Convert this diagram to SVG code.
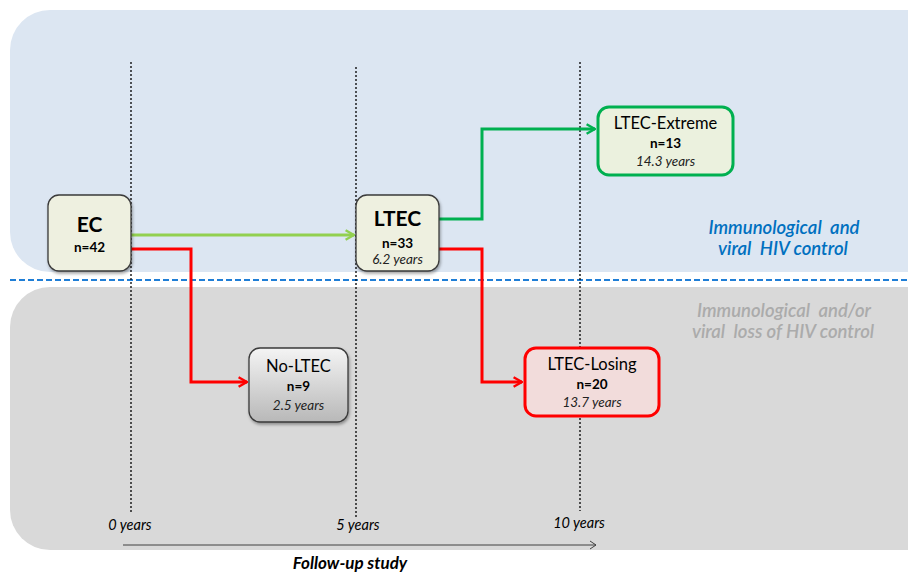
<svg xmlns="http://www.w3.org/2000/svg" width="908" height="573" viewBox="0 0 908 573">
<style>
text{font-family:Lato,"Open Sans","Liberation Sans",sans-serif;text-anchor:middle;fill:#000}
.t{font-size:16.5px}
.n{font-size:13.5px;font-weight:bold}
.y{font-size:13.5px;font-style:italic;fill:#222}
.vl{stroke:#000;stroke-width:1.3;stroke-dasharray:2,2;fill:none}
.c{fill:none;stroke-width:3}
.ax{font-size:14.5px;font-style:italic}
.bl{font-size:18.5px;font-style:italic;font-weight:600;fill:#0070C0}
.gr{font-size:18.5px;font-style:italic;font-weight:600;fill:#ABABAB}
</style>
<defs>
<filter id="sh" x="-20%" y="-20%" width="140%" height="150%"><feDropShadow dx="1" dy="2" stdDeviation="1.5" flood-color="#000" flood-opacity="0.35"/></filter>
<linearGradient id="gg" x1="0" y1="0" x2="0" y2="1"><stop offset="0" stop-color="#F4F4F4"/><stop offset="1" stop-color="#B8B8B8"/></linearGradient>
<marker id="aLG" viewBox="0 0 10 10" refX="9" refY="5" markerWidth="4" markerHeight="4" orient="auto" markerUnits="strokeWidth"><path d="M2,1 L9,5 L2,9" fill="none" stroke="#92D050" stroke-width="2"/></marker>
<marker id="aG" viewBox="0 0 10 10" refX="9" refY="5" markerWidth="4" markerHeight="4" orient="auto" markerUnits="strokeWidth"><path d="M2,1 L9,5 L2,9" fill="none" stroke="#00B050" stroke-width="2"/></marker>
<marker id="aR" viewBox="0 0 10 10" refX="9" refY="5" markerWidth="4" markerHeight="4" orient="auto" markerUnits="strokeWidth"><path d="M2,1 L9,5 L2,9" fill="none" stroke="#FF0000" stroke-width="2"/></marker>
<marker id="aK" viewBox="0 0 10 10" refX="9" refY="5" markerWidth="10" markerHeight="10" orient="auto" markerUnits="userSpaceOnUse"><path d="M3,1 L9,5 L3,9" fill="none" stroke="#404040" stroke-width="1"/></marker>
</defs>
<g id="background">
<rect x="10" y="10" width="940" height="262" rx="40" fill="#DCE6F2"/>
<rect x="10" y="287" width="940" height="263" rx="40" fill="#D9D9D9"/>
<line x1="10" y1="280" x2="908" y2="280" stroke="#1F7ED6" stroke-width="2" stroke-dasharray="6,3"/>
</g>
<g id="timelines">
<line class="vl" x1="131" y1="62" x2="131" y2="513"/>
<line class="vl" x1="356" y1="67" x2="356" y2="517"/>
<line class="vl" x1="580" y1="62" x2="580" y2="511"/>
</g>
<g id="connectors">
<path class="c" d="M131,235 H354" stroke="#92D050" marker-end="url(#aLG)"/>
<path class="c" d="M131,249 H191 V382 H247" stroke="#FF0000" marker-end="url(#aR)"/>
<path class="c" d="M439,219 H482 V129 H595" stroke="#00B050" marker-end="url(#aG)"/>
<path class="c" d="M439,249 H482 V382 H522" stroke="#FF0000" marker-end="url(#aR)"/>
<line x1="123" y1="545" x2="596" y2="545" stroke="#404040" stroke-width="1" marker-end="url(#aK)"/>
</g>
<g id="EC">
<rect x="48" y="195" width="83" height="76" rx="11" fill="#EEF0E0" stroke="#3A3A3A" stroke-width="1.3" filter="url(#sh)"/>
<text x="89.5" y="232" style="font-size:21px;font-weight:bold">EC</text>
<text x="89.5" y="252" class="n">n=42</text>
</g>
<g id="LTEC">
<rect x="356" y="195" width="83" height="76" rx="11" fill="#EEF0E0" stroke="#3A3A3A" stroke-width="1.3" filter="url(#sh)"/>
<text x="397.5" y="226" style="font-size:21px;font-weight:bold">LTEC</text>
<text x="397.5" y="248" class="n">n=33</text>
<text x="397.5" y="264" class="y">6.2 years</text>
</g>
<g id="LTEC-Extreme">
<rect x="598" y="107" width="135" height="68" rx="11" fill="#EBF1DE" stroke="#00B050" stroke-width="3"/>
<text x="665.5" y="129" class="t">LTEC-Extreme</text>
<text x="665.5" y="148" class="n">n=13</text>
<text x="665.5" y="166" class="y">14.3 years</text>
</g>
<g id="No-LTEC">
<rect x="249" y="348" width="99" height="74" rx="11" fill="url(#gg)" stroke="#3A3A3A" stroke-width="1.3" filter="url(#sh)"/>
<text x="298.5" y="372" class="t">No-LTEC</text>
<text x="298.5" y="391" class="n">n=9</text>
<text x="298.5" y="410" class="y">2.5 years</text>
</g>
<g id="LTEC-Losing">
<rect x="525" y="348" width="134" height="68" rx="11" fill="#F2DCDB" stroke="#FF0000" stroke-width="3"/>
<text x="592" y="370" class="t">LTEC-Losing</text>
<text x="592" y="389" class="n">n=20</text>
<text x="592" y="407" class="y">13.7 years</text>
</g>
<g id="labels">
<text x="784" y="234" class="bl" xml:space="preserve">Immunological  and</text>
<text x="783" y="255" class="bl" xml:space="preserve">viral  HIV control</text>
<text x="784" y="317" class="gr" xml:space="preserve">Immunological  and/or</text>
<text x="783" y="338" class="gr" xml:space="preserve">viral  loss of HIV control</text>
<text x="130" y="530" class="ax">0 years</text>
<text x="358" y="530" class="ax">5 years</text>
<text x="579" y="528" class="ax">10 years</text>
<text x="350" y="569" style="font-size:17px;font-style:italic;font-weight:bold">Follow-up study</text>
</g>
</svg>
